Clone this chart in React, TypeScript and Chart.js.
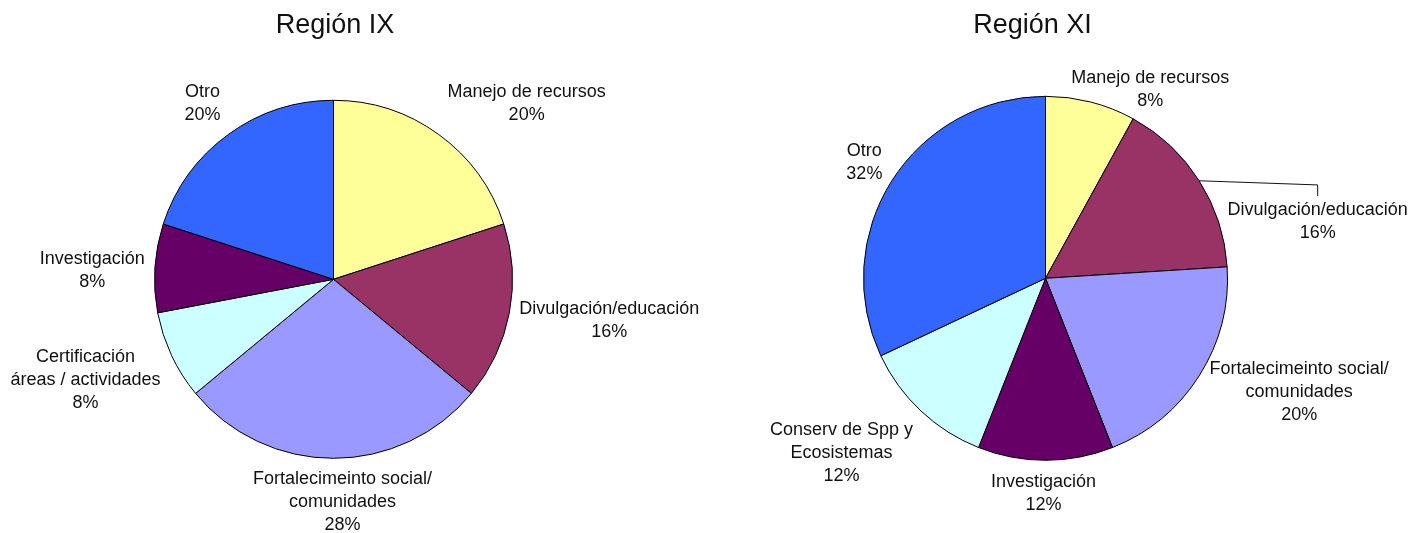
import React, { useEffect, useRef } from "react";
import { Chart, registerables } from "chart.js";

Chart.register(...registerables);

// ---------- data ----------
const TITLE_IX = "Región IX";
const CATEGORIES_IX = [
  "Manejo de recursos",
  "Divulgación/educación",
  "Fortalecimeinto social/\ncomunidades",
  "Certificación\náreas / actividades",
  "Investigación",
  "Otro",
];
const VALUES_IX = [20, 16, 28, 8, 8, 20];

const TITLE_XI = "Región XI";
const CATEGORIES_XI = [
  "Manejo de recursos",
  "Divulgación/educación",
  "Fortalecimeinto social/\ncomunidades",
  "Investigación",
  "Conserv de Spp y\nEcosistemas",
  "Otro",
];
const VALUES_XI = [8, 16, 20, 12, 12, 32];

// ---------- styles ----------
const YELLOW = "#FFFF99";
const MAROON = "#993366";
const LAVENDER = "#9999FF";
const CYAN = "#CCFFFF";
const PURPLE = "#660066";
const BLUE = "#3366FF";

const COLORS_IX = [YELLOW, MAROON, LAVENDER, CYAN, PURPLE, BLUE];
const COLORS_XI = [YELLOW, MAROON, LAVENDER, PURPLE, CYAN, BLUE];

const FONT = "'Liberation Sans', Arial, Helvetica, sans-serif";

// label fine placement (pixel nudges relative to the computed position)
const NUDGES_IX: [number, number][] = [[3, 0], [0, -1], [9, -1], [-2, -2], [0, 5], [-2, 0]];
const NUDGES_XI: [number, number][] = [[-2, 20], [20, 65], [2, -17], [-2, 0], [-1, 0], [-1, 6]];
const LEADERS_IX = [false, false, false, false, false, false];
const LEADERS_XI = [false, true, false, false, false, false];

const clamp = (v: number) => Math.max(-1, Math.min(1, v));

const pieLabelPlugin = {
  id: "pieLabels",
  afterDraw(chart: any, _args: any, opts: any) {
    const ctx = chart.ctx as CanvasRenderingContext2D;
    const meta = chart.getDatasetMeta(0);
    const values: number[] = chart.data.datasets[0].data;
    const labels: string[] = chart.data.labels;
    const total = values.reduce((a, b) => a + b, 0);
    ctx.save();
    ctx.fillStyle = opts.color;
    ctx.strokeStyle = opts.color;
    ctx.textAlign = "center";
    ctx.textBaseline = "middle";
    ctx.font = `${opts.fontSize}px ${FONT}`;
    let cxPie = 0;
    meta.data.forEach((arc: any, i: number) => {
      const p = arc.getProps(["x", "y", "startAngle", "endAngle", "outerRadius"], true);
      cxPie = p.x;
      const mid = (p.startAngle + p.endAngle) / 2;
      const dx = Math.cos(mid);
      const dy = Math.sin(mid);
      const pct = Math.round((values[i] / total) * 100) + "%";
      const lines = [...String(labels[i]).split("\n"), pct];
      const w = Math.max(...lines.map((l) => ctx.measureText(l).width));
      const h = lines.length * opts.lineHeight;
      const ax = p.x + dx * (p.outerRadius + opts.gap);
      const ay = p.y + dy * (p.outerRadius + opts.gap);
      const n = (opts.nudges && opts.nudges[i]) || [0, 0];
      const cx = ax + clamp(dx * 3) * (w / 2) + n[0];
      const cy = ay + clamp(dy * 1.5) * (h / 2) + n[1];
      lines.forEach((l, j) => {
        ctx.fillText(l, cx, cy + (j - (lines.length - 1) / 2) * opts.lineHeight);
      });
      if (opts.leaders && opts.leaders[i]) {
        const top = cy - h / 2;
        ctx.lineWidth = 1;
        ctx.beginPath();
        ctx.moveTo(p.x + dx * p.outerRadius, p.y + dy * p.outerRadius);
        ctx.lineTo(cx, top - 14);
        ctx.lineTo(cx, top - 3);
        ctx.stroke();
      }
    });
    // title
    ctx.font = `${opts.titleSize}px ${FONT}`;
    ctx.textBaseline = "alphabetic";
    ctx.fillText(opts.title, cxPie + opts.titleDx, opts.titleBaseline);
    ctx.restore();
  },
};

type PieProps = {
  title: string;
  labels: string[];
  values: number[];
  colors: string[];
  radius: number;
  padTop: number;
  left: number;
  titleDx: number;
  nudges: [number, number][];
  leaders: boolean[];
};

function PieChart(props: PieProps) {
  const ref = useRef<HTMLCanvasElement>(null);
  useEffect(() => {
    if (!ref.current) return;
    const chart = new Chart(ref.current, {
      type: "pie",
      data: {
        labels: props.labels,
        datasets: [
          {
            data: props.values,
            backgroundColor: props.colors,
            borderColor: "#000000",
            borderWidth: 1,
            radius: props.radius,
          } as any,
        ],
      },
      options: {
        responsive: false,
        animation: false,
        events: [],
        radius: props.radius,
        layout: { padding: { left: 0, right: 45, top: props.padTop, bottom: 0 } },
        plugins: {
          legend: { display: false },
          tooltip: { enabled: false },
          title: { display: false },
          pieLabels: {
            color: "#111111",
            fontSize: 18,
            lineHeight: 23,
            gap: 10,
            nudges: props.nudges,
            leaders: props.leaders,
            title: props.title,
            titleSize: 27,
            titleDx: props.titleDx,
            titleBaseline: 33,
          },
        } as any,
      } as any,
      plugins: [pieLabelPlugin],
    });
    return () => chart.destroy();
  }, []);
  return (
    <canvas
      ref={ref}
      width={712}
      height={533}
      style={{ position: "absolute", left: props.left, top: 0, width: 712, height: 533, display: "block" }}
    />
  );
}

export default function App() {
  return (
    <div style={{ position: "absolute", left: 0, top: 0, width: 1424, height: 533, background: "#ffffff", overflow: "hidden" }}>
      <PieChart
        title={TITLE_IX}
        labels={CATEGORIES_IX}
        values={VALUES_IX}
        colors={COLORS_IX}
        radius={179}
        padTop={25.6}
        left={0}
        titleDx={1.5}
        nudges={NUDGES_IX}
        leaders={LEADERS_IX}
      />
      <PieChart
        title={TITLE_XI}
        labels={CATEGORIES_XI}
        values={VALUES_XI}
        colors={COLORS_XI}
        radius={182}
        padTop={23.6}
        left={712}
        titleDx={-13}
        nudges={NUDGES_XI}
        leaders={LEADERS_XI}
      />
    </div>
  );
}
